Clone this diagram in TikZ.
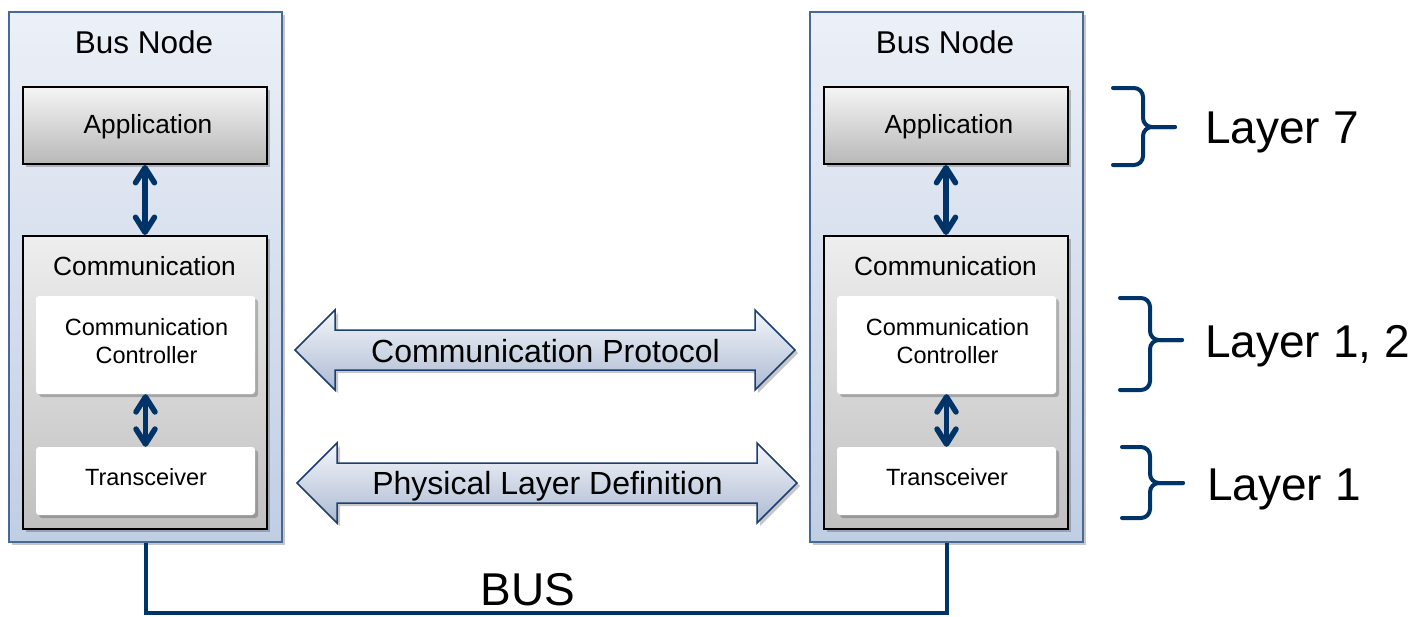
\documentclass[tikz,border=0pt]{standalone}
\usepackage{fontspec}
\setmainfont{Liberation Sans}
\usetikzlibrary{arrows.meta,shadows}

\definecolor{nodetop}{RGB}{236,240,247}
\definecolor{nodebot}{RGB}{192,206,228}
\definecolor{nodeedge}{RGB}{72,104,152}
\definecolor{greytop}{RGB}{245,245,245}
\definecolor{greybot}{RGB}{184,184,184}
\definecolor{commtop}{RGB}{238,238,238}
\definecolor{commbot}{RGB}{192,192,192}
\definecolor{linkblue}{RGB}{0,52,104}
\definecolor{flowtop}{RGB}{244,246,250}
\definecolor{flowbot}{RGB}{172,186,210}
\definecolor{flowedge}{RGB}{28,62,112}

\newcommand{\setpt}[1]{\fontsize{#1}{#1}\selectfont}

\begin{document}
\begin{tikzpicture}[x=1pt,y=-1pt,
  softshadow/.style={drop shadow={shadow xshift=3pt,shadow yshift=-3pt,opacity=0.22,fill=black}},
  busnode/.style={draw=nodeedge,line width=1.4pt,top color=nodetop,bottom color=nodebot,
    minimum width=273pt,minimum height=530pt,inner sep=0pt,softshadow},
  appbox/.style={draw=black,line width=2pt,top color=greytop,bottom color=greybot,
    minimum width=244pt,minimum height=77pt,inner sep=0pt,softshadow},
  commbox/.style={draw=black,line width=2pt,top color=commtop,bottom color=commbot,
    minimum width=244pt,minimum height=293pt,inner sep=0pt,softshadow},
  whitebox/.style={fill=white,rounded corners=3pt,minimum width=219pt,inner sep=0pt,softshadow},
  txt/.style={inner sep=0pt,text=black},
  innerlink/.style={draw=linkblue,line width=5.5pt,<->,>={Straight Barb[length=15pt,width=19pt,round]}},
  busline/.style={draw=linkblue,line width=4pt},
  flowarrow/.style={draw=flowedge,line width=1.5pt,line join=miter,top color=flowtop,bottom color=flowbot,softshadow},
  bracket/.style={draw=linkblue,line width=4pt,line cap=round,rounded corners=9pt}
]
\useasboundingbox (0,0) rectangle (1423,616);

% the two bus nodes, identical apart from their horizontal offset
\foreach \s/\dx in {L/0,R/801}{
  \node[busnode] (bus\s) at (\dx+145.5,277) {};
  \node[txt,anchor=base,font=\setpt{31.5}] (title\s) at (\dx+144,53) {Bus Node};

  \node[appbox] (app\s) at (\dx+145,125.5) {};
  \node[txt,anchor=base,font=\setpt{26.3}] (apptext\s) at (\dx+148,133) {Application};

  \node[commbox] (comm\s) at (\dx+145,382.5) {};
  \node[txt,anchor=base,font=\setpt{26.3}] (commtext\s) at (\dx+144.5,275) {Communication};

  \node[whitebox,minimum height=98pt] (ctrl\s) at (\dx+145.5,345) {};
  \node[txt,align=center,font={\fontsize{23.5}{28}\selectfont}] (ctrltext\s) at (\dx+146.5,341.5)
    {Communication\\Controller};

  \node[whitebox,minimum height=68pt] (trx\s) at (\dx+145.5,481) {};
  \node[txt,anchor=base,font=\setpt{23.5}] (trxtext\s) at (\dx+146,485) {Transceiver};

  \draw[innerlink] (app\s.south) -- (comm\s.north);
  \draw[innerlink] (ctrl\s.south) -- (trx\s.north);
}

% bus wire joining both nodes
\draw[busline] (busL.south) -- ++(0,70) -| (busR.south);
\node[txt,anchor=base,font=\setpt{46}] (buslabel) at (528,605) {BUS};

% protocol and physical layer double arrows
\path[flowarrow] (295,350) -- (335,310) -- (335,330) -- (755,330) -- (755,310) -- (795,350)
  -- (755,390) -- (755,370) -- (335,370) -- (335,390) -- cycle;
\node[txt,anchor=base,font=\setpt{32}] (protocol) at (545.5,362) {Communication Protocol};

\path[flowarrow] (297,483) -- (337,443) -- (337,463) -- (757,463) -- (757,443) -- (797,483)
  -- (757,523) -- (757,503) -- (337,503) -- (337,523) -- cycle;
\node[txt,anchor=base,font=\setpt{32}] (physical) at (547.5,494) {Physical Layer Definition};

% layer brackets
\draw[bracket] (1113,88) -- (1143,88) -- (1143,127) -- (1175,127);
\draw[bracket] (1113,165) -- (1143,165) -- (1143,127) -- (1175,127);
\node[txt,anchor=base west,font=\setpt{46}] (layer7) at (1205,143) {Layer 7};

\draw[bracket] (1120,298) -- (1150,298) -- (1150,340) -- (1182,340);
\draw[bracket] (1120,390) -- (1150,390) -- (1150,340) -- (1182,340);
\node[txt,anchor=base west,font=\setpt{46}] (layer12) at (1205,357) {Layer 1, 2};

\draw[bracket] (1122,447) -- (1150,447) -- (1150,483) -- (1183,483);
\draw[bracket] (1122,518) -- (1150,518) -- (1150,483) -- (1183,483);
\node[txt,anchor=base west,font=\setpt{46}] (layer1) at (1207,500) {Layer 1};
\end{tikzpicture}
\end{document}
